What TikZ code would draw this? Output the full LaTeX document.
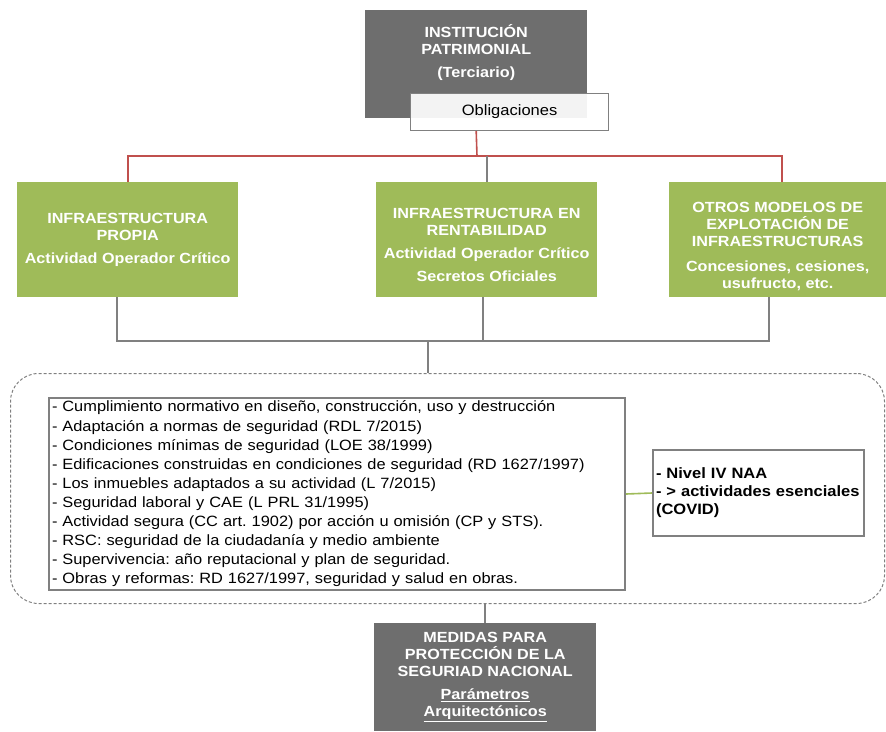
\documentclass[tikz,border=0pt]{standalone}
\usepackage{fontspec}
\setmainfont{Liberation Sans}[FakeStretch=1.1]
\usetikzlibrary{positioning}
\definecolor{verde}{RGB}{159,187,89}
\definecolor{gris}{RGB}{110,110,110}
\definecolor{rojo}{RGB}{192,80,77}
\definecolor{linea}{RGB}{128,128,128}

\begin{document}
\begin{tikzpicture}[x=1pt, y=-1pt,
    box/.style={rectangle, inner sep=0pt, anchor=north west, align=center, font=\fontsize{14.7}{17}\selectfont\bfseries},
    greenbox/.style={box, fill=verde, text=white, minimum width=221, minimum height=115},
    graybox/.style={box, fill=gris, text=white, minimum width=222, minimum height=108},
    listbox/.style={rectangle, draw=linea, line width=2pt, fill=white, anchor=north west, inner xsep=3pt, inner ysep=0pt, align=left},
    redline/.style={draw=rojo, line width=1.6pt},
    grayline/.style={draw=linea, line width=1.6pt}]
    \useasboundingbox (0,0) rectangle (886,731);

    % cabecera
    \node (inst) [graybox] at (365,10) {};
    \node (insttxt) [box, text=white, below=14pt of inst.north] {INSTITUCIÓN\\PATRIMONIAL\\[6pt](Terciario)};
    \node (oblig) [rectangle, draw=linea, line width=1.2pt, fill=white, fill opacity=0.92, text opacity=1, minimum width=198, minimum height=37, inner sep=0pt, anchor=north west, font=\fontsize{15}{17}\selectfont] at (410,93) {Obligaciones};

    % modelos
    \node (prop) [greenbox] at (17,182) {INFRAESTRUCTURA\\PROPIA\\[6pt]Actividad Operador Crítico};
    \node (rent) [greenbox] at (376,182) {\rule{0pt}{20pt}INFRAESTRUCTURA EN\\RENTABILIDAD\\[6pt]Actividad Operador Crítico\\[6pt]Secretos Oficiales};
    \node (otros) [greenbox, minimum width=217] at (669,182) {\rule{0pt}{24pt}OTROS MODELOS DE\\EXPLOTACIÓN DE\\INFRAESTRUCTURAS\\[8pt]Concesiones, cesiones,\\usufructo, etc.};

    % obligaciones comunes
    \node (grupo) [rectangle, draw=linea, line width=1pt, dash pattern=on 3pt off 2pt, rounded corners=28pt, minimum width=874, minimum height=230, inner sep=0pt, anchor=north west] at (10,373) {};
    \node (lista) [listbox, text width=570, minimum height=192, font=\fontsize{14.9}{19.1}\selectfont\frenchspacing] at (48,397) {%
        - Cumplimiento normativo en diseño, construcción, uso y destrucción\\
        - Adaptación a normas de seguridad (RDL 7/2015)\\
        - Condiciones mínimas de seguridad (LOE 38/1999)\\
        - Edificaciones construidas en condiciones de seguridad (RD 1627/1997)\\
        - Los inmuebles adaptados a su actividad (L 7/2015)\\
        - Seguridad laboral y CAE (L PRL 31/1995)\\
        - Actividad segura (CC art. 1902) por acción u omisión (CP y STS).\\
        - RSC: seguridad de la ciudadanía y medio ambiente\\
        - Supervivencia: año reputacional y plan de seguridad.\\
        - Obras y reformas: RD 1627/1997, seguridad y salud en obras.};
    \node (nivel) [listbox, text width=205, minimum height=86, font=\fontsize{15}{18}\selectfont\bfseries] at (652,449) {- Nivel IV NAA\\- > actividades esenciales\\(COVID)};

    % medidas
    \node (medidas) [graybox] at (374,623) {MEDIDAS PARA\\PROTECCIÓN DE LA\\SEGURIAD NACIONAL\\[6pt]\underline{Parámetros}\\\underline{Arquitectónicos}};

    % conectores
    \coordinate (rbar) at (477,156);
    \coordinate (gbar) at (428,341);
    \draw[redline] (oblig.south -| inst.south) -- (rbar);
    \draw[redline] (prop.north) |- (rbar) -| ([xshift=4]otros.north);
    \draw[grayline] (rent.north) -- (rent.north |- rbar);
    \draw[grayline] ([xshift=-11]prop.south) |- (gbar) -| ([xshift=-9]otros.south);
    \draw[grayline] ([xshift=-4]rent.south) -- ([xshift=-4]rent.south |- gbar);
    \draw[grayline] (gbar) -- (gbar |- grupo.north);
    \draw[draw=verde, line width=1.6pt] (lista.east) -- (nivel.west);
    \draw[grayline] (grupo.south -| medidas.north) -- (medidas.north);
\end{tikzpicture}
\end{document}
